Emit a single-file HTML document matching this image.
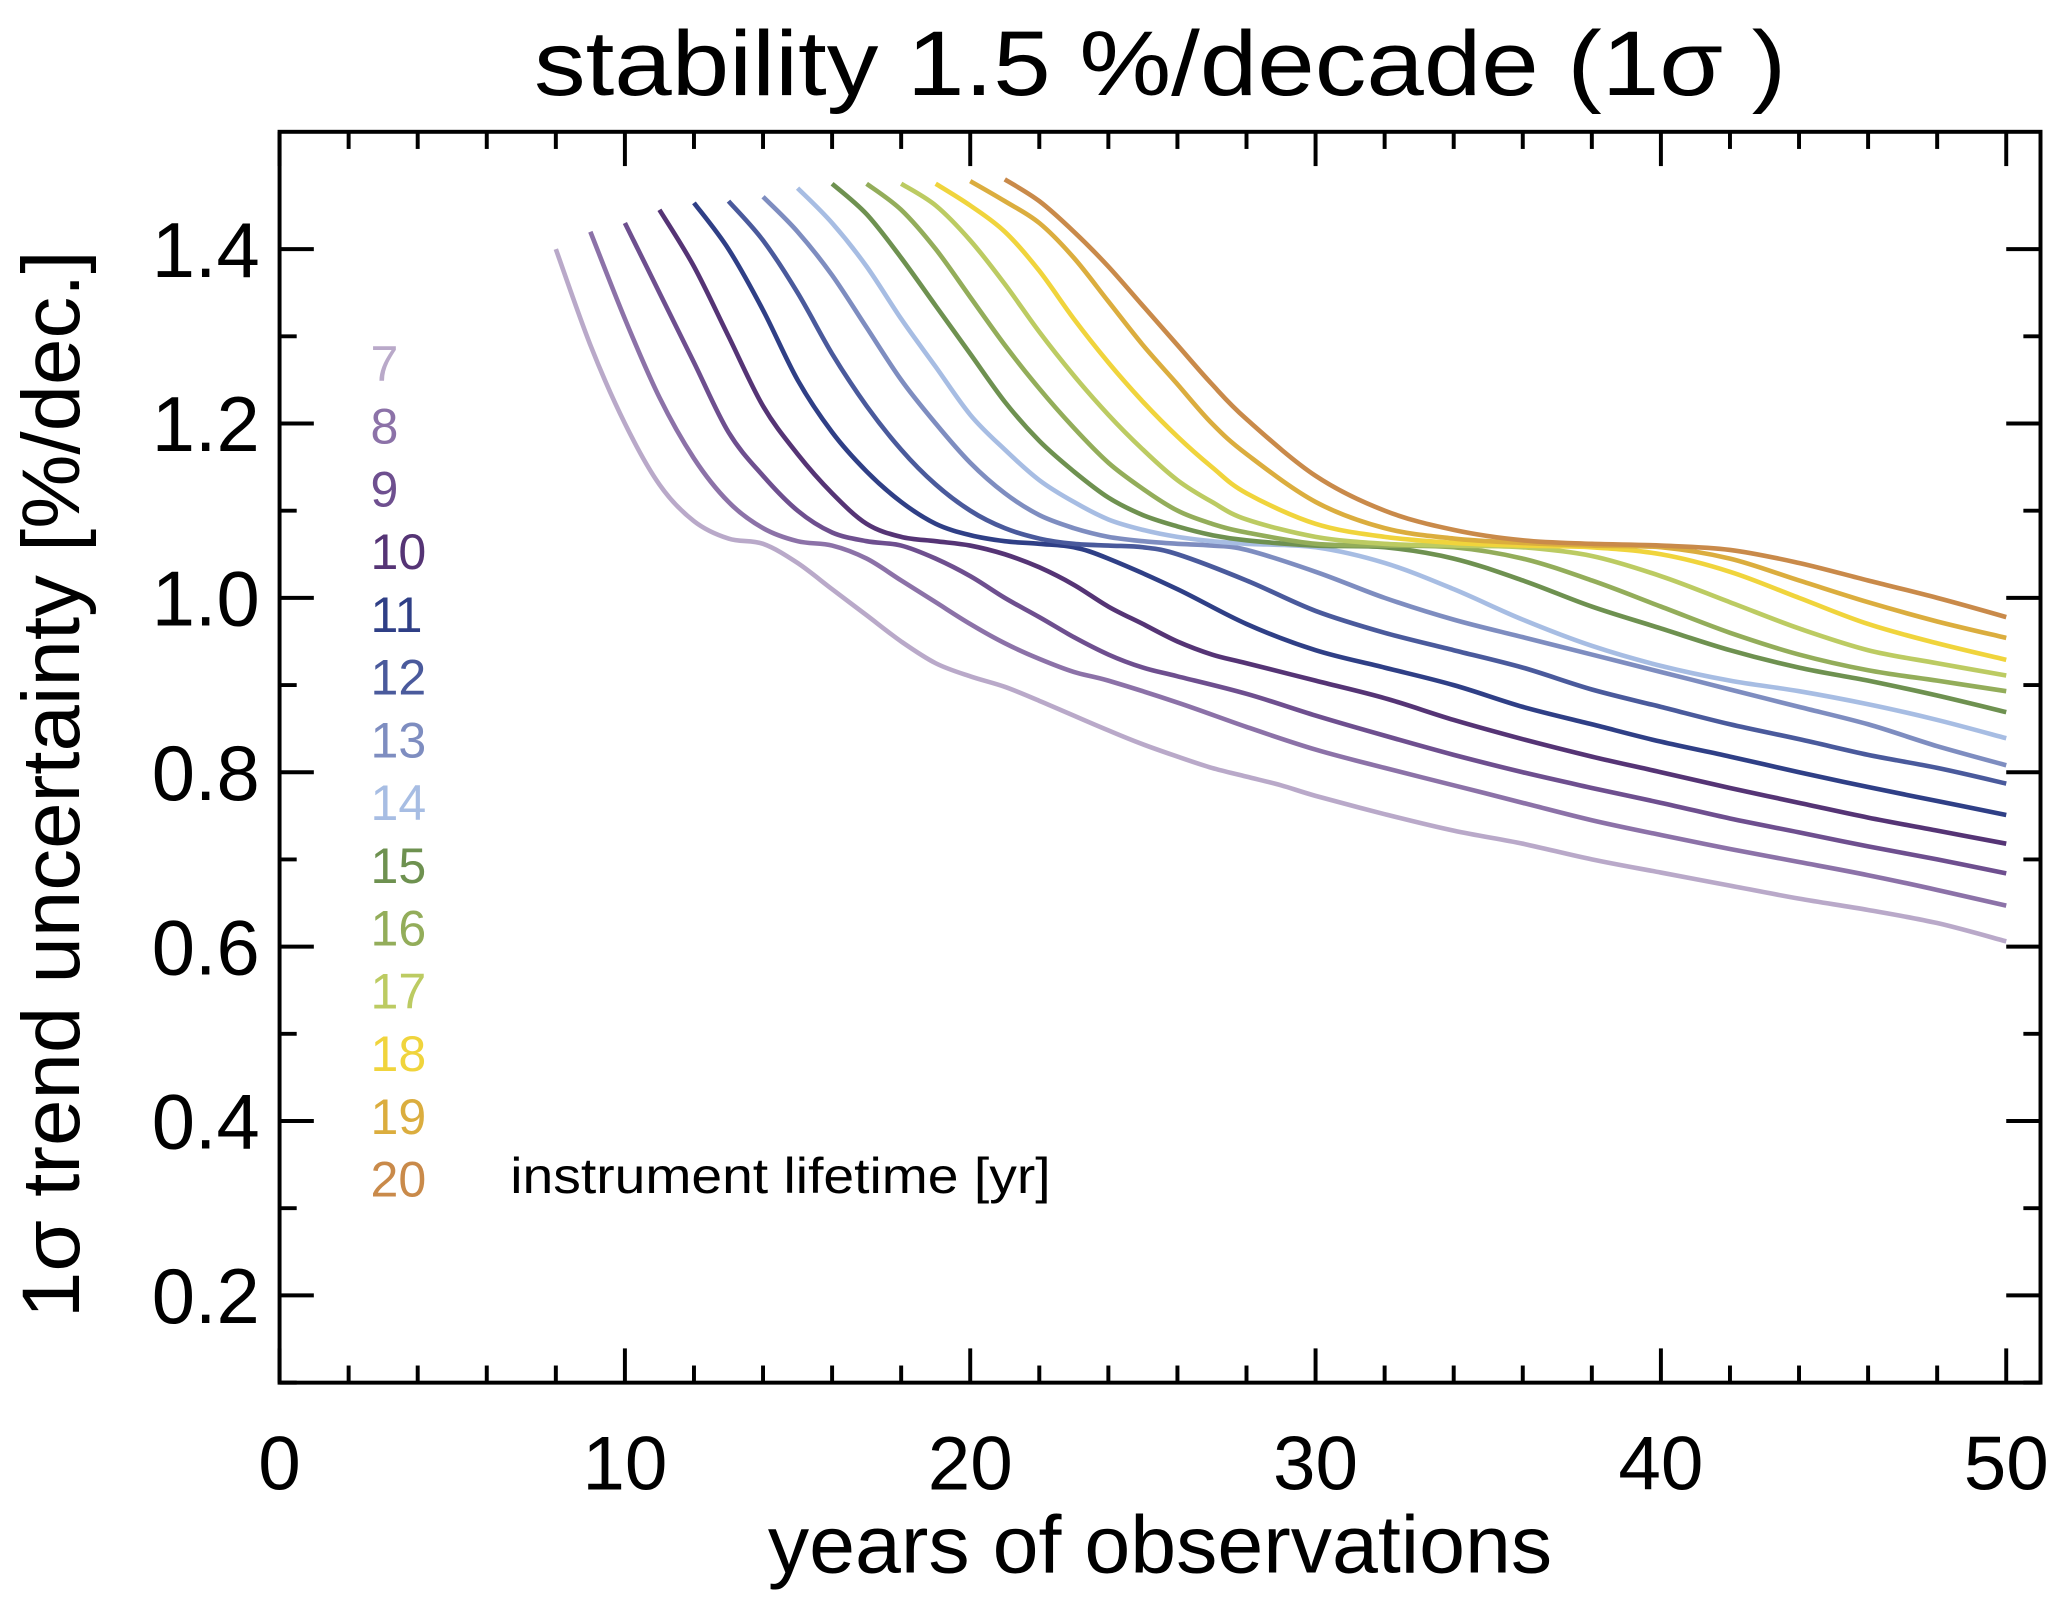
<!DOCTYPE html>
<html><head><meta charset="utf-8"><style>
html,body{margin:0;padding:0;background:#fff}
svg{display:block}
text{font-family:"Liberation Sans",sans-serif;fill:#000}
</style></head><body>
<svg id="chart" width="2067" height="1612" viewBox="0 0 1568 1223" xmlns="http://www.w3.org/2000/svg">
<text x="880" y="72" font-size="70" text-anchor="middle" textLength="950" lengthAdjust="spacingAndGlyphs">stability 1.5 %/decade (1σ )</text>
<text x="880" y="1193" font-size="62" text-anchor="middle" textLength="595" lengthAdjust="spacingAndGlyphs">years of observations</text>
<text transform="translate(60,595) rotate(-90)" font-size="62" text-anchor="middle" textLength="810" lengthAdjust="spacingAndGlyphs">1σ  trend uncertainty [%/dec.]</text>
<g id="axes"></g>
<g id="series"></g>
<g id="legend"></g>
<text x="387" y="905" font-size="38" textLength="410" lengthAdjust="spacingAndGlyphs">instrument lifetime [yr]</text>
</svg>
<script>
const lifetimes=[7,8,9,10,11,12,13,14,15,16,17,18,19,20];
const colors=["#b9a9c9","#8c72a8","#6e4f8f","#553475","#2f3f86","#4a5a9c","#7e8dc0","#a7bde3","#6e9150","#93ad5a","#bccb62","#f0d43c","#dbad3e","#c98a4a"];
const xTicks=[0,10,20,30,40,50];
const yTicks=[0.2,0.4,0.6,0.8,1.0,1.2,1.4];
const s7x=[8,9,10,11,12,13,14,15,16,17,18,19,20,21,22,23,24,25,26,27,28,29,30,32,34,36,38,40,42,44,46,48,50];
const s7y=[1.40,1.29,1.20,1.13,1.088,1.068,1.062,1.04,1.01,0.98,0.95,0.925,0.91,0.898,0.882,0.865,0.848,0.832,0.818,0.805,0.795,0.785,0.773,0.752,0.733,0.718,0.700,0.685,0.670,0.655,0.642,0.627,0.606];
const s8x=[9,10,11,12,13,14,15,16,17,18,19,20,21,22,23,24,26,28,30,32,34,36,38,40,42,44,46,48,50];
const s8y=[1.42,1.32,1.23,1.16,1.11,1.08,1.065,1.06,1.045,1.02,0.995,0.97,0.948,0.93,0.915,0.905,0.88,0.852,0.826,0.805,0.785,0.765,0.745,0.728,0.712,0.697,0.682,0.665,0.647];
const s9x=[10,11,12,13,14,15,16,17,18,19,20,21,22,23,24,25,26,28,30,32,34,36,38,40,42,44,46,48,50];
const s9y=[1.43,1.35,1.27,1.19,1.14,1.10,1.075,1.065,1.06,1.045,1.025,1.0,0.978,0.955,0.935,0.92,0.91,0.89,0.865,0.842,0.82,0.80,0.782,0.765,0.747,0.731,0.715,0.70,0.684];
const s10x=[11,12,13,14,15,16,17,18,19,20,21,22,23,24,25,26,27,28,30,32,34,36,38,40,42,44,46,48,50];
const s10y=[1.445,1.38,1.30,1.22,1.165,1.12,1.085,1.07,1.065,1.06,1.05,1.035,1.015,0.99,0.97,0.95,0.935,0.925,0.905,0.885,0.86,0.838,0.818,0.80,0.782,0.765,0.748,0.733,0.718];
const s11x=[12,13,14,15,16,17,18,19,20,21,22,23,24,26,28,30,32,34,36,38,40,42,44,46,48,50];
const s11y=[1.453,1.40,1.33,1.25,1.19,1.145,1.11,1.085,1.072,1.065,1.062,1.058,1.045,1.01,0.97,0.94,0.92,0.90,0.875,0.855,0.835,0.818,0.80,0.783,0.767,0.751];
const s12x=[13,14,15,16,17,18,19,20,21,22,23,24,25,26,28,30,32,34,36,38,40,42,44,46,48,50];
const s12y=[1.455,1.41,1.35,1.28,1.22,1.17,1.13,1.10,1.08,1.068,1.062,1.06,1.058,1.05,1.02,0.985,0.96,0.94,0.92,0.895,0.875,0.855,0.838,0.82,0.805,0.787];
const s13x=[14,15,16,17,18,19,20,21,22,23,24,25,26,27,28,30,32,34,36,38,40,42,44,46,48,50];
const s13y=[1.46,1.42,1.37,1.31,1.25,1.20,1.155,1.12,1.095,1.08,1.07,1.065,1.062,1.06,1.055,1.03,1.0,0.975,0.955,0.935,0.915,0.895,0.875,0.855,0.83,0.808];
const s14x=[15,16,17,18,19,20,21,22,23,24,25,26,27,28,30,32,34,36,38,40,42,44,46,48,50];
const s14y=[1.47,1.43,1.38,1.32,1.265,1.21,1.17,1.135,1.11,1.09,1.078,1.07,1.065,1.062,1.058,1.04,1.01,0.975,0.945,0.922,0.905,0.893,0.878,0.86,0.839];
const s15x=[16,17,18,19,20,21,22,23,24,25,26,27,28,30,32,34,36,38,40,42,44,46,48,50];
const s15y=[1.475,1.44,1.39,1.335,1.28,1.225,1.18,1.145,1.115,1.095,1.082,1.072,1.066,1.06,1.058,1.045,1.02,0.99,0.965,0.94,0.92,0.905,0.888,0.869];
const s16x=[17,18,19,20,21,22,23,24,25,26,27,28,30,32,34,36,38,40,42,44,46,48,50];
const s16y=[1.475,1.445,1.40,1.345,1.29,1.24,1.195,1.155,1.125,1.10,1.085,1.075,1.062,1.06,1.058,1.045,1.02,0.99,0.96,0.935,0.917,0.905,0.893];
const s17x=[18,19,20,21,22,23,24,25,26,27,28,30,32,34,36,38,40,42,44,46,48,50];
const s17y=[1.475,1.45,1.41,1.36,1.305,1.255,1.21,1.17,1.135,1.11,1.09,1.07,1.062,1.06,1.058,1.048,1.025,0.995,0.965,0.94,0.925,0.911];
const s18x=[19,20,21,22,23,24,25,26,27,28,30,32,34,36,38,40,42,44,46,48,50];
const s18y=[1.475,1.45,1.42,1.375,1.32,1.27,1.225,1.185,1.15,1.12,1.085,1.07,1.063,1.06,1.058,1.05,1.03,1.0,0.97,0.948,0.929];
const s19x=[20,21,22,23,24,25,26,27,28,30,32,34,36,38,40,42,44,46,48,50];
const s19y=[1.478,1.455,1.43,1.39,1.34,1.29,1.245,1.20,1.165,1.11,1.08,1.068,1.063,1.06,1.058,1.045,1.02,0.995,0.973,0.954];
const s20x=[21,22,23,24,25,26,27,28,30,32,34,36,38,40,42,44,46,48,50];
const s20y=[1.48,1.455,1.42,1.38,1.335,1.29,1.245,1.205,1.14,1.10,1.078,1.066,1.062,1.06,1.055,1.04,1.02,1.0,0.978];
const seriesX=[s7x,s8x,s9x,s10x,s11x,s12x,s13x,s14x,s15x,s16x,s17x,s18x,s19x,s20x];
const seriesY=[s7y,s8y,s9y,s10y,s11y,s12y,s13y,s14y,s15y,s16y,s17y,s18y,s19y,s20y];

const NS="http://www.w3.org/2000/svg";
const L=212,R=1548,T=100,B=1049;
const xs=v=>212+v*26.2;
const ys=v=>189+(1.4-v)*661.5;
function mk(tag,attrs,parent){const e=document.createElementNS(NS,tag);for(const k in attrs)e.setAttribute(k,attrs[k]);parent.appendChild(e);return e;}
const axes=document.getElementById('axes');
const frame=mk('rect',{x:L,y:T,width:R-L,height:B-T,fill:'none',stroke:'#000','stroke-width':3},axes);


for(let v=0;v<=50;v+=2){
  const major=v%10===0, len=major?26:13, x=xs(v);
  const t1=mk('line',{x1:x,y1:B,x2:x,y2:B-len,stroke:'#000','stroke-width':3},axes);
  
  
  const t2=mk('line',{x1:x,y1:T,x2:x,y2:T+len,stroke:'#000','stroke-width':3},axes);
  
  
}
xTicks.forEach(v=>{
  const t=mk('text',{x:xs(v),y:1130,'font-size':58,'text-anchor':'middle'},axes);
  t.textContent=String(v);
  
  
});
for(let i=1;i<=14;i++){
  const v=i/10, major=i%2===0, len=major?26:13, y=ys(v);
  const t1=mk('line',{x1:L,y1:y,x2:L+len,y2:y,stroke:'#000','stroke-width':3},axes);
  
  
  const t2=mk('line',{x1:R,y1:y,x2:R-len,y2:y,stroke:'#000','stroke-width':3},axes);
  
  
}
yTicks.forEach(v=>{
  const t=mk('text',{x:197,y:ys(v)+21,'font-size':59,'text-anchor':'end'},axes);
  t.textContent=v.toFixed(1);
  
  
});
const sg=document.getElementById('series');
function smooth(pts){
  let d='M'+pts[0][0].toFixed(1)+','+pts[0][1].toFixed(1);
  for(let i=0;i<pts.length-1;i++){
    const p0=pts[i-1]||pts[i],p1=pts[i],p2=pts[i+1],p3=pts[i+2]||p2;
    const c1=[p1[0]+(p2[0]-p0[0])/6,p1[1]+(p2[1]-p0[1])/6];
    const c2=[p2[0]-(p3[0]-p1[0])/6,p2[1]-(p3[1]-p1[1])/6];
    d+=' C'+c1[0].toFixed(1)+','+c1[1].toFixed(1)+' '+c2[0].toFixed(1)+','+c2[1].toFixed(1)+' '+p2[0].toFixed(1)+','+p2[1].toFixed(1);
  }
  return d;
}
seriesX.forEach((xa,i)=>{
  const pts=xa.map((x,j)=>[xs(x),ys(seriesY[i][j])]);
  const p=mk('path',{d:smooth(pts),fill:'none',stroke:colors[i],'stroke-width':3.5,'stroke-linejoin':'round'},sg);
  
  
});
const lg=document.getElementById('legend');
lifetimes.forEach((lt,i)=>{
  const t=mk('text',{x:281,y:289+i*47.6,'font-size':38},lg);
  t.setAttribute('style','fill:'+colors[i]);
  t.textContent=String(lt);
  
  
});
</script>
</body></html>
